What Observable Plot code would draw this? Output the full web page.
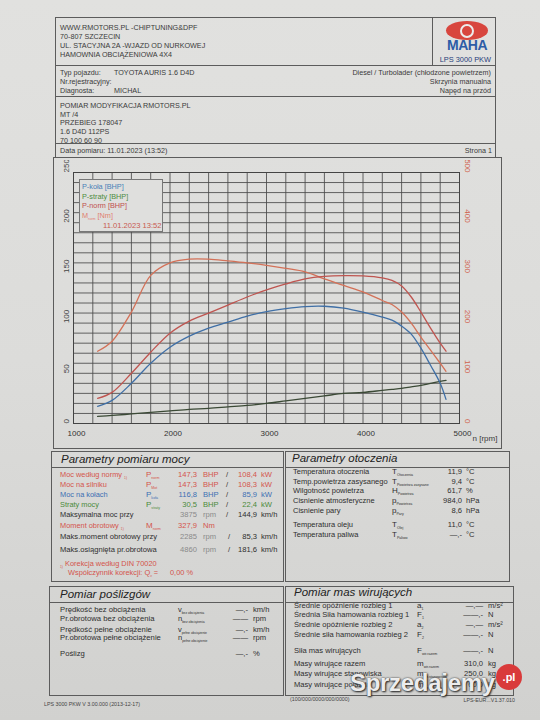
<!DOCTYPE html>
<html><head><meta charset="utf-8">
<script src="https://cdn.jsdelivr.net/npm/d3@7"></script>
<script src="https://cdn.jsdelivr.net/npm/@observablehq/plot@0.6"></script>
<style>
html,body{margin:0;padding:0;}
body{width:540px;height:720px;overflow:hidden;background:#d9d9d6;font-family:"Liberation Sans",Arial,sans-serif;color:#3a3a3a;}
#page{position:relative;width:540px;height:720px;overflow:hidden;background:linear-gradient(180deg,#e1e1df 0%,#dcdcda 50%,#d1d1cf 100%);}
.t{position:absolute;white-space:nowrap;line-height:1;}
.box{position:absolute;border:1px solid #5c5c5c;box-sizing:border-box;}
.ln{position:absolute;background:#5c5c5c;}
.sb{font-size:45%;vertical-align:-2px;}
</style></head><body><div id="page"></div>
<script>
// ---------- chart data ----------
const rpm     = [1250,1400,1600,1800,2000,2200,2400,2600,2800,3000,3200,3400,3600,3800,4000,4200,4300,4400,4500,4600,4700,4800,4860];
const pKola   = [17,23,40,60,76,87,95,101,107,111.5,114.5,116.5,116.8,115,111,106,103,97,89,75,58,40,24];
const pStraty = [7,8,9.5,11,12.5,14,15,16.5,18,20,22.5,25,27.5,30,31,33,34,35,36.5,38,40,42,43];
const pNorm   = [25,31,50,71,90,102,110,118,126,133,139,144,146.5,147.3,147,145,142.5,137,126,111,95,80,72];
const mNorm   = [144,164,222,295,320,327.5,327.5,324,320,315,309,302,288,275,262,245,237,222,200,172,146,120,104];
const xTickLabels = [1000,2000,3000,4000,5000];
const yLeftTicks  = [0,50,100,150,200,250];
const yRightTicks = [0,100,200,300,400,500];
const legendItems = ["P-koła [BHP]","P-straty [BHP]","P-norm [BHP]","M<span class='sb'>norm</span> [Nm]"];
const legendDate = "11.01.2023 13:52";

// ---------- document text data ----------
const headerLines = ["WWW.RMOTORS.PL -CHIPTUNING&amp;DPF","70-807 SZCZECIN","UL. STACYJNA 2A -WJAZD OD NURKOWEJ","HAMOWNIA OBCIĄŻENIOWA 4X4"];
const vehicleLeft = [["Typ pojazdu:","TOYOTA AURIS 1.6 D4D"],["Nr.rejestracyjny:",""],["Diagnosta:","MICHAL"]];
const vehicleRight = ["Diesel / Turbolader (chłodzone powietrzem)","Skrzynia manualna","Napęd na przód"];
const noteLines = ["POMIAR MODYFIKACJA RMOTORS.PL","MT /4","PRZEBIEG 178047","1.6 D4D 112PS","70 100 60 90"];
const powerRows = [
  ["Moc według normy <span class='sb'>1)</span>","P","norm","147,3","BHP","108,4","kW","r"],
  ["Moc na silniku","P","Mot","147,3","BHP","108,3","kW","r"],
  ["Moc na kołach","P","koła","116,8","BHP","85,9","kW","b"],
  ["Straty mocy","P","straty","30,5","BHP","22,4","kW","g"],
  ["Maksymalna moc przy","","","3875","rpm","144,9","km/h","k"]
];
const torqueRows = [
  ["Maks.moment obrotowy przy","2285","rpm","85,3","km/h"],
  ["Maks.osiągnięta pr.obrotowa","4860","rpm","181,6","km/h"]
];
const ambientRows = [
  ["Temperatura otoczenia","T","Otoczenia","11,9","°C"],
  ["Temp.powietrza zasysanego","T","Powietrza zasysane","9,4","°C"],
  ["Wilgotność powietrza","H","Powietrza","61,7","%"],
  ["Cisnienie atmosferyczne","p","Powietrza","984,0","hPa"],
  ["Cisnienie pary","p","Pary","8,6","hPa"],
  ["Temperatura oleju","T","Olej","11,0","°C"],
  ["Temperatura paliwa","T","Paliwo","—,-","°C"]
];
const slipRows = [
  ["Prędkość bez obciążenia","v","bez obciążenia","—,-","km/h"],
  ["Pr.obrotowa bez obciążenia","n","bez obciążenia","——","rpm"],
  ["Prędkość pełne obciążenie","v","pełne obciążenie","—,-","km/h"],
  ["Pr.obrotowa pełne obciążenie","n","pełne obciążenie","——","rpm"],
  ["Poślizg","","","—,-","%"]
];
const massRows = [
  ["Średnie opóźnienie rozbieg 1","a","1","—,—","m/s²"],
  ["Średnia Siła hamowania rozbieg 1","F","1","——,-","N"],
  ["Średnie opóźnienie rozbieg 2","a","2","—,—","m/s²"],
  ["Średnie siła hamowania rozbieg 2","F","2","——,-","N"],
  ["Siła mas wirujących","F","wir.razem","——,-","N"],
  ["Masy wirujące razem","m","wir.razem","310,0","kg"],
  ["Masy wirujące stanowiska","m","wir.stanowiska","250,0","kg"],
  ["Masy wirujące pojazdu","m","wir.pojazdu","60,0","kg"]
];

const C = {r:"#d4544c", b:"#3d6fb3", g:"#4a8a3a", k:"#2e2e2e", grey:"#8a8a8a"};
const page = document.getElementById("page");
function txt(x, y, s, o = {}) {
  const el = document.createElement("div");
  el.className = "t";
  const size = o.size || 7.3;
  el.style.fontSize = size + "px";
  el.style.top = (y - size / 2) + "px";
  if (o.align === "right") el.style.right = (540 - x) + "px";
  else if (o.align === "center") { el.style.left = x + "px"; el.style.transform = "translateX(-50%)"; }
  else el.style.left = x + "px";
  if (o.color) el.style.color = o.color;
  if (o.italic) el.style.fontStyle = "italic";
  if (o.bold) el.style.fontWeight = "bold";
  if (o.css) Object.assign(el.style, o.css);
  el.innerHTML = s;
  page.appendChild(el);
  return el;
}
function box(x1, y1, x2, y2, css) {
  const el = document.createElement("div");
  el.className = "box";
  Object.assign(el.style, {left: x1 + "px", top: y1 + "px", width: (x2 - x1) + "px", height: (y2 - y1) + "px"}, css || {});
  page.appendChild(el);
  return el;
}
function hline(x1, x2, y) { const el = document.createElement("div"); el.className = "ln"; Object.assign(el.style, {left: x1 + "px", top: y + "px", width: (x2 - x1) + "px", height: "1px"}); page.appendChild(el); }
function vline(x, y1, y2) { const el = document.createElement("div"); el.className = "ln"; Object.assign(el.style, {left: x + "px", top: y1 + "px", width: "1px", height: (y2 - y1) + "px"}); page.appendChild(el); }
const sym = (s, sub) => s ? `${s}<span class='sb'>${sub}</span>` : "";

// ---------- frames ----------
box(55, 17, 496, 66); vline(432, 17, 66);
box(55, 65, 496, 97);
box(55, 96, 496, 144);
box(55, 143, 496, 158);
box(53, 157, 502, 449);
box(51, 451, 284, 582); hline(51, 284, 467);
box(285, 451, 510, 582); hline(285, 510, 467);
box(49, 586, 284, 696); hline(49, 284, 602);
box(285, 586, 514, 696); hline(285, 514, 602);

// ---------- header ----------
headerLines.forEach((s, i) => txt(60, [28, 36.5, 45.5, 54.5][i], s, {size: 7.2}));
const eye = document.createElement("div");
Object.assign(eye.style, {position: "absolute", left: "446px", top: "21px", width: "42px", height: "19px", borderRadius: "50%", background: "#d8463e"});
page.appendChild(eye);
const pupil = document.createElement("div");
Object.assign(pupil.style, {position: "absolute", left: "460px", top: "24px", width: "10px", height: "10px", borderRadius: "50%", border: "2px solid #ececec", background: "#d8463e"});
page.appendChild(pupil);
txt(467, 45, "MAHA", {size: 14, bold: true, align: "center", color: "#2d5ca6", css: {letterSpacing: "-0.5px"}});
txt(491, 60, "LPS 3000 PKW", {size: 7.4, align: "right", color: "#273d7a"});
vehicleLeft.forEach(([a, b], i) => { const y = [73, 82, 90.6][i]; txt(60, y, a, {size: 7.2}); if (b) txt(114, y, b, {size: 7.2}); });
vehicleRight.forEach((s, i) => txt(491, [73, 82, 90.6][i], s, {size: 7.2, align: "right"}));
noteLines.forEach((s, i) => txt(60, [106, 115, 123, 132, 140.5][i], s, {size: 7.2}));
txt(60, 150.5, "Data pomiaru: 11.01.2023 (13:52)", {size: 7.2});
txt(492, 150.5, "Strona 1", {size: 7.2, align: "right"});

// ---------- chart ----------
const series = [
  {name: "mNorm", vals: mNorm.map(v => v / 2), color: "#d37158"},
  {name: "pNorm", vals: pNorm, color: "#bf5550"},
  {name: "pStraty", vals: pStraty, color: "#3b4a36"},
  {name: "pKola", vals: pKola, color: "#3f6fa6"}
];
const SX = 50, SY = 160, W = 440, H = 290;
const svg = Plot.plot({
  width: W, height: H,
  marginLeft: 73 - SX, marginRight: W - (459 - SX), marginTop: 172 - SY, marginBottom: H - (423 - SY),
  x: {domain: [1000, 5000], axis: null},
  y: {domain: [0, 250], axis: null},
  style: {background: "transparent", fontFamily: "Liberation Sans, Arial, sans-serif", fontSize: "8px", color: "#333"},
  marks: [
    Plot.ruleX(d3.range(1000, 5001, 200), {x: d => d, stroke: "#4a4a4a", strokeOpacity: 0.85, strokeWidth: 1}),
    Plot.ruleY(d3.range(0, 251, 10), {y: d => d, stroke: "#4a4a4a", strokeOpacity: 0.85, strokeWidth: 1}),
    Plot.frame({stroke: "#444", strokeWidth: 1}),
    ...series.map(s => Plot.line(rpm.map((r, i) => ({r, v: s.vals[i]})), {x: "r", y: "v", stroke: s.color, strokeWidth: 1.3, curve: "catmull-rom"})),
    Plot.text(xTickLabels, {x: d => d, text: d => String(d), frameAnchor: "bottom", dy: 12, dx: 3, fill: "#333", fontSize: 8}),
    Plot.text(yLeftTicks, {y: d => d, text: d => String(d), frameAnchor: "left", dx: -7, rotate: -90, fill: "#444", fontSize: 8}),
    Plot.text(yRightTicks, {y: d => d / 2, text: d => String(d), frameAnchor: "right", dx: 8, rotate: 90, fill: "#d0604a", fontSize: 8})
  ]
});
Object.assign(svg.style, {position: "absolute", left: SX + "px", top: SY + "px"});
page.appendChild(svg);
txt(485, 438.5, "n [rpm]", {size: 8, align: "center"});

// legend overlay
box(79, 179, 163, 232, {background: "#dfdfdd", borderColor: "#777"});
const legColors = ["#4a7fb8", "#4e8c3e", "#c0504d", "#e08070"];
legendItems.forEach((s, i) => txt(82, [187, 196.5, 206, 215.5][i], s, {size: 7.3, color: legColors[i]}));
txt(103, 226, legendDate, {size: 7.6, color: "#c85a50"});

// ---------- Parametry pomiaru mocy ----------
txt(61, 459.5, "Parametry pomiaru mocy", {size: 11.5, italic: true, color: "#222"});
const prY = [475, 485, 495, 505, 514.5];
powerRows.forEach((row, i) => {
  const [lab, s, sub, v1, u1, v2, u2, c] = row; const y = prY[i];
  const col = C[c];
  txt(60, y, lab, {size: 7.4, color: col});
  if (s) txt(146, y, sym(s, sub), {size: 8, color: col});
  txt(197, y, v1, {size: 7.6, align: "right", color: c === "k" ? C.grey : col});
  txt(203, y, u1, {size: 7.6, color: c === "k" ? C.grey : col});
  txt(226, y, "/", {size: 7.6, color: "#333"});
  txt(257, y, v2, {size: 7.6, align: "right", color: col});
  txt(261, y, u2, {size: 7.6, color: col});
});
txt(60, 526, "Moment obrotowy <span class='sb'>1)</span>", {size: 7.4, color: C.r});
txt(146, 526, sym("M", "norm"), {size: 8, color: C.r});
txt(197, 526, "327,9", {size: 7.6, align: "right", color: C.r});
txt(203, 526, "Nm", {size: 7.6, color: C.r});
torqueRows.forEach((row, i) => {
  const y = [536.5, 549.5][i];
  txt(60, y, row[0], {size: 7.6, color: C.k});
  txt(197, y, row[1], {size: 7.6, align: "right", color: C.grey});
  txt(203, y, row[2], {size: 7.6, color: C.grey});
  txt(228, y, "/", {size: 7.6, color: "#333"});
  txt(257, y, row[3], {size: 7.6, align: "right", color: C.k});
  txt(261, y, row[4], {size: 7.6, color: C.k});
});
txt(60, 563.5, "<span class='sb'>1)</span> Korekcja według DIN 70020", {size: 7.4, color: C.r});
txt(68, 572.5, "Współczynnik korekcji: Q<span class='sb'>v</span> =", {size: 7.4, color: C.r});
txt(170, 572.5, "0,00 %", {size: 7.4, color: C.r});

// ---------- Parametry otoczenia ----------
txt(292, 459, "Parametry otoczenia", {size: 11.5, italic: true, color: "#222"});
ambientRows.forEach((row, i) => {
  const y = [472, 481.5, 491, 501, 511, 524.5, 534.5][i];
  txt(293, y, row[0], {size: 7.5, color: C.k});
  txt(392, y, sym(row[1], row[2]), {size: 8, color: C.k});
  txt(462, y, row[3], {size: 7.6, align: "right", color: C.k});
  txt(466, y, row[4], {size: 7.6, color: C.k});
});

// ---------- Pomiar poślizgów ----------
txt(60, 595, "Pomiar poślizgów", {size: 11.5, italic: true, color: "#222"});
slipRows.forEach((row, i) => {
  const y = [610, 619, 629.5, 638, 654][i];
  txt(60, y, row[0], {size: 7.7, color: C.k});
  if (row[1]) txt(178, y, sym(row[1], row[2]), {size: 7.5, color: C.k});
  txt(248, y, row[3], {size: 7.6, align: "right", color: C.k});
  txt(253, y, row[4], {size: 7.6, color: C.k});
});

// ---------- Pomiar mas wirujących ----------
txt(294, 592.5, "Pomiar mas wirujących", {size: 11.5, italic: true, color: "#222"});
massRows.forEach((row, i) => {
  const y = [606, 614.5, 625, 635, 651, 663.5, 673.5, 685][i];
  txt(294, y, row[0], {size: 7.6, color: C.k});
  txt(417, y, sym(row[1], row[2]), {size: 8, color: C.k});
  txt(483, y, row[3], {size: 7.6, align: "right", color: C.k});
  txt(488, y, row[4], {size: 7.6, color: C.k});
});

// ---------- footer ----------
txt(44, 705, "LPS 3000 PKW V 3.00.000 (2013-12-17)", {size: 5.3, color: "#444"});
txt(290, 700, "(100/000/0000/000/0000)", {size: 5.3, color: "#444"});
txt(515, 701, "LPS-EUR...V1.37.010", {size: 5.3, align: "right", color: "#444"});

// ---------- watermark ----------
txt(350, 683, "Sprzedajemy", {size: 24, bold: true, color: "rgba(255,255,255,0.92)", css: {textShadow: "0 0 2px #333, 1px 1px 2px #222", letterSpacing: "-0.3px"}});
const dot = document.createElement("div");
Object.assign(dot.style, {position: "absolute", left: "496px", top: "664px", width: "26px", height: "26px", borderRadius: "50%", background: "#d93a3a"});
page.appendChild(dot);
txt(509, 677, ".pl", {size: 11, bold: true, align: "center", color: "#fff"});
</script></body></html>
